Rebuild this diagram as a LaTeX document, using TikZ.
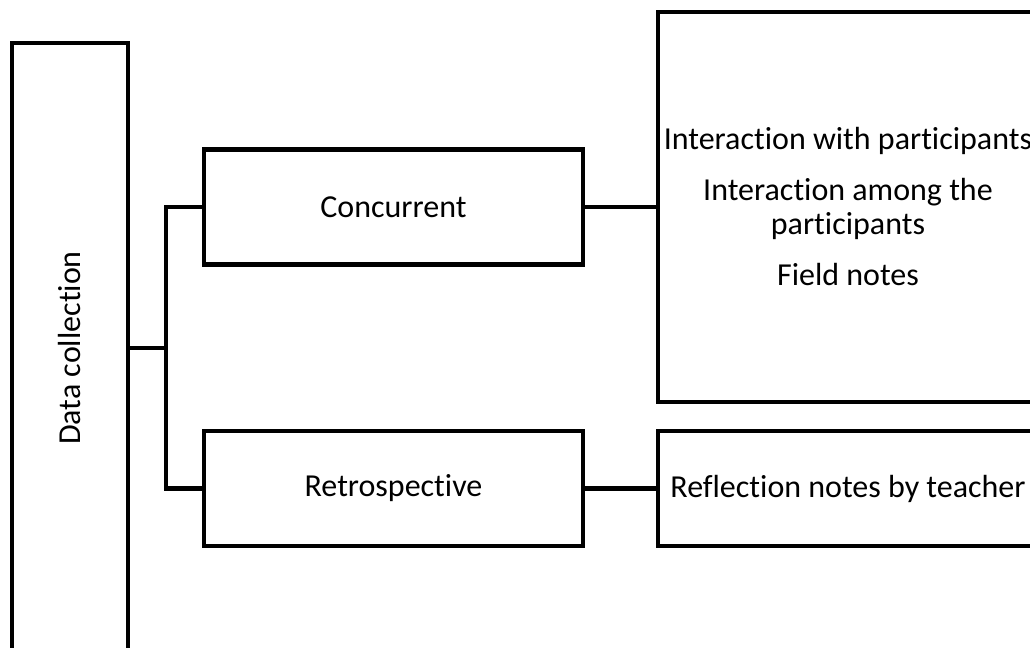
\documentclass[tikz,border=0pt]{standalone}
\usepackage{fontspec}
\setmainfont{Carlito}[Ligatures={NoCommon}]
\usepackage{tikz}
\usetikzlibrary{positioning, calc}
\newcommand{\dcti}{t\kern0pt i}
\tikzset{
  dcbox/.style={draw=black, line width=2.2pt, fill=white, align=center,
    inner sep=2pt, font=\fontsize{16}{17}\selectfont},
  dcline/.style={line width=2.2pt, black},
}

\begin{document}
\begin{tikzpicture}[x=0.5pt, y=-0.5pt]
  \path[use as bounding box] (0,0) rectangle (1030,648);
  \clip (0,0) rectangle (1030,648);
  \node[dcbox, minimum width=58pt, minimum height=305pt] (dc) at (70,348) {};
  \node[rotate=90, font=\fontsize{16}{17}\selectfont] (dclabel) at (dc.center) {Data collec\dcti on};
  \node[dcbox, minimum width=189.5pt, minimum height=57.5pt] (conc) at (393.5,207) {Concurrent};
  \node[dcbox, minimum width=189.5pt, minimum height=57.5pt] (retro) at (393.5,488.5) {Retrospec\dcti ve};
  \node[dcbox, minimum width=190pt, minimum height=195pt] (concsrc) at (848,207)
    {Interac\dcti on with par\dcti cipants\\[8.5pt]Interac\dcti on among the\\par\dcti cipants\\[8.5pt]Field notes};
  \node[dcbox, minimum width=190pt, minimum height=57.5pt] (retrosrc) at (848,488.5) {Reflec\dcti on notes by teacher};
  \coordinate (fork) at (166,348);
  \draw[dcline] (dc.east) -- (fork);
  \draw[dcline] (fork) |- (conc.west);
  \draw[dcline] (fork) |- (retro.west);
  \draw[dcline] (conc.east) -- (concsrc.west);
  \draw[dcline] (retro.east) -- (retrosrc.west);
\end{tikzpicture}
\end{document}
